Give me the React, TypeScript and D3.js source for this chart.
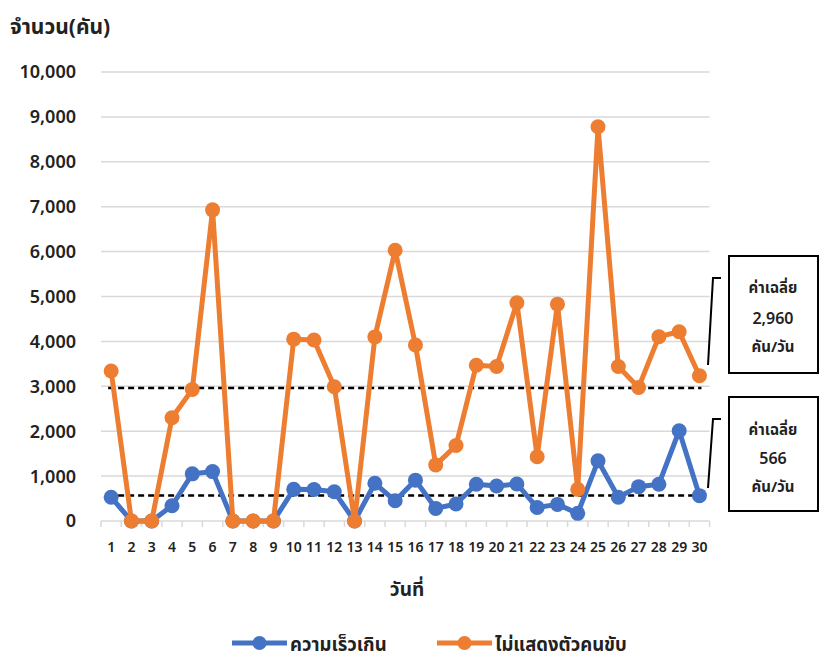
import React from "react";
import * as d3 from "d3";

const days: string[] = Array.from({ length: 30 }, (_, i) => String(i + 1));
const speeding: number[] = [530, 0, 0, 340, 1050, 1100, 0, 0, 0, 705, 700, 650, 0, 840, 450, 910, 280, 380, 820, 780, 825, 300, 370, 170, 1340, 530, 765, 820, 2010, 565];
const noLicense: number[] = [3340, 0, 0, 2300, 2930, 6930, 0, 0, 0, 4050, 4030, 2990, 0, 4100, 6030, 3920, 1250, 1680, 3470, 3440, 4860, 1430, 4830, 705, 8780, 3440, 2975, 4105, 4215, 3235];
const yTicks: number[] = [0, 1000, 2000, 3000, 4000, 5000, 6000, 7000, 8000, 9000, 10000];
const seriesNames: string[] = ["ความเร็วเกิน", "ไม่แสดงตัวคนขับ"];
const averages: number[] = [566, 2960];
const avgLabels: string[] = ["566", "2,960"];
const colors: string[] = ["#4472C4", "#ED7D31"];

const FONT = "Tahoma, 'Noto Sans Thai', 'Noto Sans', 'DejaVu Sans', sans-serif";

export default function App() {
  const W = 821, H = 666;
  const x = d3.scaleBand<string>().domain(days).range([101, 709.6]).padding(0);
  const y = d3.scaleLinear().domain([0, 10000]).range([521, 72]);
  const cx = (d: string) => (x(d) as number) + x.bandwidth() / 2;
  const line = d3.line<number>().x((_, i) => cx(days[i])).y((v) => y(v));
  const series = [speeding, noLicense];
  const fmt = d3.format(",");
  const x0 = cx(days[0]) - 3;
  const x1 = cx(days[days.length - 1]) + 2;

  const boxes = [
    { s: 1, top: 256, h: 117, lines: [288, 318, 347], bracketTop: 278, bracketBottom: 365 },
    { s: 0, top: 397, h: 114, lines: [430, 458, 487], bracketTop: 419, bracketBottom: 488 },
  ];

  return (
    <svg width={W} height={H} style={{ position: "absolute", left: 0, top: 0, background: "#fff" }} fontFamily={FONT}>
      <rect width={W} height={H} fill="#fff" />
      <text x={10} y={34} fontSize={21} fontWeight="bold" fill="#222">จำนวน(คัน)</text>
      {yTicks.map((t) => (
        <g key={t}>
          {t > 0 && <line x1={101} x2={709.6} y1={y(t)} y2={y(t)} stroke="#d9d9d9" strokeWidth={1.5} />}
          <text x={76} y={y(t)} dy="0.36em" textAnchor="end" fontSize={18} fontWeight={600} fill="#222">{fmt(t)}</text>
        </g>
      ))}
      <line x1={101} x2={709.6} y1={y(0)} y2={y(0)} stroke="#d9d9d9" strokeWidth={1.5} />
      {days.map((d, i) => (
        <g key={d}>
          <line x1={x(d) as number} x2={x(d) as number} y1={y(0)} y2={y(0) + 6} stroke="#d9d9d9" strokeWidth={1.5} />
          {i === days.length - 1 && (
            <line x1={(x(d) as number) + x.bandwidth()} x2={(x(d) as number) + x.bandwidth()} y1={y(0)} y2={y(0) + 6} stroke="#d9d9d9" strokeWidth={1.5} />
          )}
          <text x={cx(d)} y={552} textAnchor="middle" fontSize={14} fontWeight={600} fill="#222">{d}</text>
        </g>
      ))}
      <text x={407} y={596} textAnchor="middle" fontSize={19} fontWeight="bold" fill="#222">วันที่</text>
      {averages.map((a, i) => (
        <line key={i} x1={x0} x2={x1} y1={y(a)} y2={y(a)} stroke="#000" strokeWidth={2.5} strokeDasharray="6,4" />
      ))}
      {series.map((s, si) => (
        <g key={si}>
          <path d={line(s) as string} fill="none" stroke={colors[si]} strokeWidth={5} strokeLinejoin="round" />
          {s.map((v, i) => (
            <circle key={i} cx={cx(days[i])} cy={y(v)} r={7.5} fill={colors[si]} />
          ))}
        </g>
      ))}
      {boxes.map((b, bi) => (
        <g key={bi}>
          <rect x={729} y={b.top} width={89} height={b.h} fill="#fff" stroke="#000" strokeWidth={2} />
          <polyline points={`721,${b.bracketTop} 713,${b.bracketTop} 708,${b.bracketBottom}`} fill="none" stroke="#000" strokeWidth={2} />
          <text x={773} y={b.lines[0]} dy="0.36em" textAnchor="middle" fontSize={15} fontWeight="bold" fill="#222">ค่าเฉลี่ย</text>
          <text x={773} y={b.lines[1]} dy="0.36em" textAnchor="middle" fontSize={16} fontWeight={600} fill="#222">{avgLabels[b.s]}</text>
          <text x={773} y={b.lines[2]} dy="0.36em" textAnchor="middle" fontSize={15} fontWeight="bold" fill="#222">คัน/วัน</text>
        </g>
      ))}
      {seriesNames.map((n, i) => {
        const lx = i === 0 ? 232 : 437;
        return (
          <g key={n}>
            <line x1={lx} x2={lx + 55} y1={643} y2={643} stroke={colors[i]} strokeWidth={5} />
            <circle cx={lx + 27.5} cy={643} r={7} fill={colors[i]} />
            <text x={lx + 58} y={644} dy="0.36em" fontSize={18.5} fontWeight="bold" fill="#222">{n}</text>
          </g>
        );
      })}
    </svg>
  );
}
